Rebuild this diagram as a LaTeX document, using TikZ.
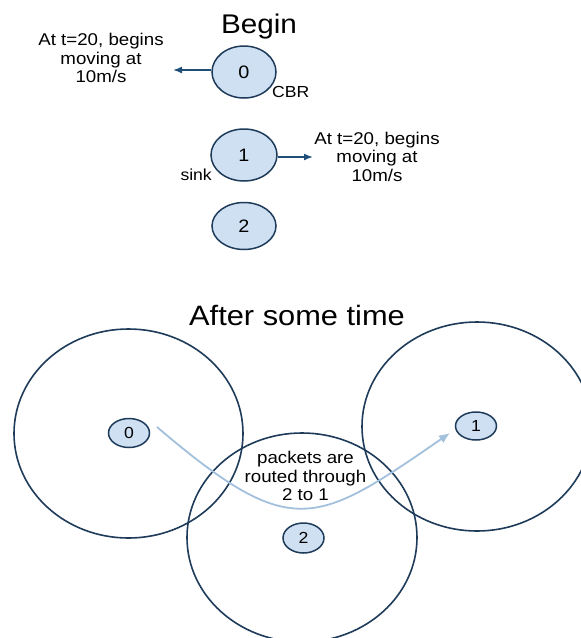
\documentclass[tikz,border=0pt]{standalone}
\usepackage{fontspec}
\setmainfont{Liberation Sans}[FakeStretch=1.1]
\usetikzlibrary{shapes.geometric,arrows.meta}
\definecolor{navy}{HTML}{1F3B5A}
\definecolor{nodefill}{HTML}{CFE0F3}
\definecolor{arrowblue}{HTML}{1F4E79}
\definecolor{routeblue}{HTML}{A3C0DC}
\tikzset{
  mote/.style={ellipse, draw=navy, fill=nodefill, line width=1.5pt, inner sep=0pt},
  bigmote/.style={mote, minimum width=64pt, font=\fontsize{18}{18}\selectfont},
  smallmote/.style={mote, minimum width=41pt, minimum height=29pt, font=\fontsize{16}{16}\selectfont},
  radiorange/.style={ellipse, draw=navy, line width=1.6pt, inner sep=0pt, minimum width=229pt, minimum height=209pt},
  note/.style={align=center, inner sep=0pt, font=\fontsize{17}{18.5}\selectfont},
  tag/.style={inner sep=0pt, font=\fontsize{16}{16}\selectfont},
  heading/.style={inner sep=0pt, anchor=base},
  move/.style={draw=arrowblue, line width=1.6pt, -{Latex[length=9pt,width=7pt]}},
  packetroute/.style={draw=routeblue, line width=1.8pt, -{Latex[length=11pt,width=9pt]}}
}
\begin{document}
\begin{tikzpicture}[x=1pt, y=-1pt]
\useasboundingbox (0,0) rectangle (581,638);
\clip (0,0) rectangle (581,638);
\fill[white] (0,0) rectangle (581,638);

% ---- initial placement ----
\node[heading, font=\fontsize{27}{27}\selectfont] (begin) at (259,33) {Begin};

\node[bigmote, minimum height=52pt] (a0) at (244,72) {0};
\node[bigmote, minimum height=52pt, minimum width=66pt] (a1) at (244,155) {1};
\node[bigmote, minimum height=47pt] (a2) at (244,226) {2};

\node[tag, anchor=base west] (cbr) at (272,97) {CBR};
\node[tag, anchor=base east] (sink) at (212,180) {sink};

\coordinate (left0) at (173,70);
\coordinate (right1) at (313,157);
\draw[move] (a0.west |- left0) -- (left0);
\draw[move] (a1.east |- right1) -- (right1);

\node[note] (mv0) at (101,58) {At t=20, begins\\moving at\\10m/s};
\node[note] (mv1) at (377,156.5) {At t=20, begins\\moving at\\10m/s};

% ---- later placement with radio ranges ----
\node[heading, font=\fontsize{28}{28}\selectfont] (after) at (297,325) {After some time};

\node[radiorange] (r0) at (128.5,433.5) {};
\node[radiorange, minimum width=230pt] (r2) at (302,537.5) {};
\node[radiorange, minimum width=230pt] (r1) at (477,426.5) {};

\node[smallmote] (b0) at (129,433) {0};
\node[smallmote, minimum height=28pt] (b1) at (476,426) {1};
\node[smallmote, minimum height=30pt] (b2) at (303.5,538) {2};

\coordinate (src) at (157,427);
\coordinate (dst) at (450,433);
\draw[packetroute] (src) .. controls (292,542) and (315,526) .. (dst);

\node[note] (via) at (305.5,476) {packets are\\routed through\\2 to 1};
\end{tikzpicture}
\end{document}
